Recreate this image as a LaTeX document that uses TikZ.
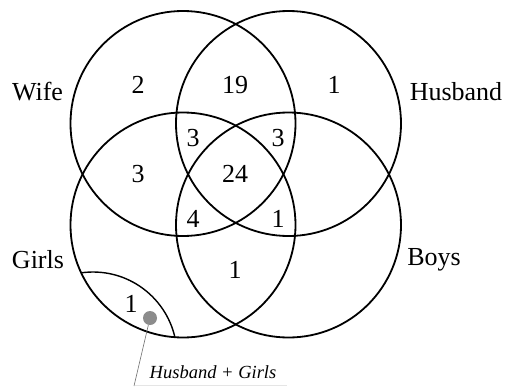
\documentclass[tikz,border=0pt]{standalone}
\usepackage{fontspec}
\setmainfont{Liberation Serif}
\begin{document}
\begin{tikzpicture}[x=1pt,y=-1pt,
  setcircle/.style={draw=black,line width=1.8pt,circle,minimum size=225pt,inner sep=0pt},
  num/.style={font=\fontsize{26}{26}\selectfont,inner sep=0pt},
  setlabel/.style={font=\fontsize{26}{26}\selectfont,inner sep=0pt},
  callout/.style={draw=gray!85!black,line width=0.6pt}]
\useasboundingbox (0,0) rectangle (506,386);

% the four sets
\node[setcircle] (wife) at (183,123.5) {};
\node[setcircle] (husband) at (288.5,123.5) {};
\node[setcircle] (girls) at (183,225) {};
\node[setcircle] (boys) at (288.5,225) {};

% small region inside Girls (Husband + Girls)
\begin{scope}
  \clip (183,225) circle (112.5);
  \draw[line width=1.4pt] (93,356) circle (84);
\end{scope}

% set names
\node[setlabel] (lwife) at (37.5,92) {Wife};
\node[setlabel] (lhusband) at (456,92) {Husband};
\node[setlabel] (lgirls) at (38,260) {Girls};
\node[setlabel] (lboys) at (434,260) {Boys};

% counts
\node[num] (n1) at (138,85) {2};
\node[num] (n2) at (235,85) {19};
\node[num] (n3) at (334,85) {1};
\node[num] (n4) at (138,174) {3};
\node[num] (n5) at (193,138) {3};
\node[num] (n6) at (278,138) {3};
\node[num] (n7) at (235,174) {24};
\node[num] (n8) at (193,219) {4};
\node[num] (n9) at (278,219) {1};
\node[num] (n10) at (235,270) {1};
\node[num] (n11) at (131,304) {1};

% callout
\node[circle,fill=gray!90,minimum size=14pt,inner sep=0pt] (dot) at (150,318) {};
\coordinate (tail) at (134,386);
\draw[callout] (dot) -- (tail);
\node[font=\fontsize{18.5}{18.5}\selectfont\itshape,inner sep=0pt] (cap) at (213,372) {Husband + Girls};
\draw[gray!20,line width=0.8pt] (135,385.5) -- (287,385.5);
\end{tikzpicture}
\end{document}
